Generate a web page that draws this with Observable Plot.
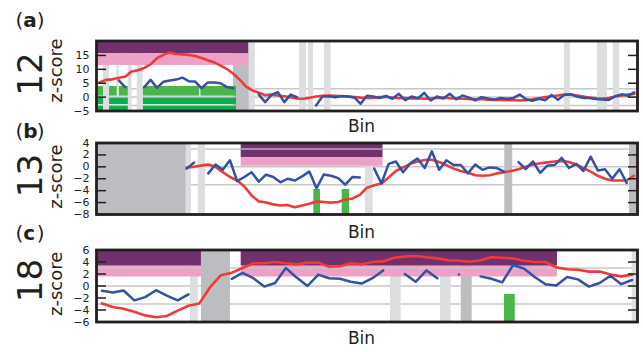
<!DOCTYPE html>
<html><head><meta charset="utf-8">
<script src="https://cdn.jsdelivr.net/npm/d3@7"></script>
<script src="https://cdn.jsdelivr.net/npm/@observablehq/plot@0.6"></script>
<style>
body{margin:0;background:#fff;}
#chart{position:relative;width:643px;height:352px;overflow:hidden;background:#fff;}
#chart svg{position:absolute;left:0;top:0;}
</style></head><body><div id="chart"></div>
<script>
// ---------- data ----------
const panelLetters = ["a", "b", "c"];
const chromosomes = ["12", "13", "18"];
const xLabel = "Bin";
const yLabel = "z-score";
const gridValues = [-3, 0, 3];

// panel (a): chromosome 12
const binsA = 85;
const yDomainA = [-5, 20.2];
const yTicksA = [-5, 0, 5, 10, 15];
const redA = [5.4,6.2,6.4,7.0,7.3,9.2,9.7,10.5,11.8,14.0,15.2,16.1,15.5,15.4,15.2,14.8,14.1,13.3,12.5,11.3,10.1,8.4,6.3,3.8,2.4,1.6,0.7,0.9,0.6,0.3,0.0,-0.5,-0.6,-0.2,0.2,0.5,0.6,0.5,0.3,0.2,0.0,-0.2,-0.3,-0.2,0.0,0.1,-0.2,-0.4,-0.3,-0.5,-0.4,-0.6,-0.5,-0.3,-0.2,-0.4,-0.5,-0.6,-0.7,-0.8,-0.7,-0.9,-1.0,-1.0,-1.1,-1.0,-1.2,-1.1,-0.8,-0.4,0.0,0.3,0.6,0.9,1.0,0.6,0.2,-0.2,-0.4,-0.5,-0.3,0.2,0.6,0.9,1.1];
const blueA = [null,null,null,6.0,3.6,null,null,3.6,6.2,3.4,5.5,6.0,6.3,7.0,5.7,5.6,3.2,5.3,5.3,5.0,3.6,3.2,null,null,null,0.9,-1.8,0.8,1.8,-1.8,0.9,0.0,null,null,-3.0,0.2,0.3,-0.1,0.4,0.2,-0.1,-2.4,0.5,0.2,-0.3,0.4,-0.6,1.2,-1.1,0.2,-0.4,1.5,-1.2,0.2,-0.5,1.2,-0.8,0.6,-0.2,-1.2,0.0,-0.5,-0.9,-0.3,-0.6,-0.3,0.9,-0.8,-1.3,-0.6,-1.1,0.8,-1.0,0.8,1.0,0.2,-0.3,-0.3,-0.7,-0.9,-1.0,0.3,1.0,0.5,1.7];
const lightA = [[1.1,2.05],[3.2,3.55],[5.0,5.6],[6.4,7.3],[24.0,24.95],[31.9,33.0],[33.3,34.1],[35.8,36.85],[73.5,74.45],[78.7,80.3],[81.2,82.2]];
const darkA = [[21.5,24.0]];
const bandsA = [[0,23.9]];
const purpleA = [15.6, 20.2];
const pinkA = [11.4, 15.6];
const greenUpperA = [[0.27,1.1],[2.05,3.25],[3.6,5.0],[7.35,16.2],[16.4,22.0]];
const greenLowerA = [[0.27,1.1],[2.05,5.0],[7.35,22.0]];
const greenRowsA = [[0.35,3.85],[-2.7,-0.35],[-5,-3.3]];

// panel (b): chromosome 13
const binsB = 75;
const yDomainB = [-8, 4];
const yTicksB = [-8, -6, -4, -2, 0, 2, 4];
const redB = [null,null,null,null,null,null,null,null,null,null,null,null,-0.1,0.0,0.2,0.4,0.0,-0.9,-1.7,-2.3,-3.3,-4.8,-5.8,-6.0,-6.3,-6.5,-6.4,-6.8,-6.5,-6.2,-5.8,-5.9,-6.0,-5.9,-5.5,-5.3,-4.7,-3.5,-3.1,-2.8,-1.8,-0.7,-0.1,0.5,0.9,1.15,1.2,0.8,0.3,-0.3,-0.7,-1.0,-1.4,-1.5,-1.4,-1.1,-0.9,-0.7,-0.4,0.0,0.4,0.6,0.75,0.9,1.0,0.8,0.4,-0.2,-0.8,-1.5,-2.0,-2.3,-2.3,-2.3,-1.5];
const blueB = [null,null,null,null,null,null,null,null,null,null,null,null,-0.3,0.7,null,-1.1,0.4,-0.5,1.1,-2.4,-1.7,-0.9,-2.5,-1.3,-1.7,-2.6,-2.0,-2.3,-1.6,-0.8,-3.6,-1.3,-1.5,-1.9,-3.0,-1.7,-1.8,null,-0.3,-2.8,0.5,0.9,-0.9,0.6,1.4,-0.2,2.6,-0.5,1.1,0.3,0.3,-1.1,0.4,-0.5,-0.1,-0.2,-0.8,null,0.8,-0.4,0.9,-1.0,0.2,0.3,1.5,-0.2,0.5,-0.7,1.7,-0.6,-0.4,-2.0,-0.4,-2.7,null];
const lightB = [[12.44,13.17],[14.1,15.1],[37.3,38.36]];
const darkB = [[0,12.44],[56.6,57.7],[73.9,75]];
const bandsB = [[20.06,39.72]];
const purpleB = [1.55, 4];
const pinkB = [0.1, 1.55];
const greenB = [[30.13,31.05],[34.06,35.08]];
const greenRowB = [-8, -3.8];

// panel (c): chromosome 18
const binsC = 50;
const yDomainC = [-6, 6];
const yTicksC = [-6, -4, -2, 0, 2, 4, 6];
const redC = [-2.9,-3.5,-3.8,-4.3,-4.9,-5.2,-5.0,-4.1,-3.3,-2.9,-0.2,1.8,2.2,3.0,3.8,3.8,4.0,3.8,3.6,3.9,3.9,3.2,3.3,3.8,3.6,4.0,4.1,4.7,4.9,5.0,4.8,4.6,4.3,4.2,4.05,4.3,4.8,4.7,4.6,4.2,4.0,4.0,3.1,2.8,2.7,2.4,2.4,1.9,1.6,1.9];
const blueC = [-0.8,-1.1,-0.75,-2.4,-1.85,-0.7,-1.6,-2.4,-1.4,null,null,null,1.2,2.2,1.3,-0.1,0.5,3.0,1.4,0.0,1.9,1.3,1.2,0.7,0.4,1.3,2.6,null,2.0,0.7,2.6,1.3,null,1.9,null,1.6,1.2,0.6,3.5,2.9,1.5,0.3,0.1,1.5,1.1,-0.1,0.5,1.7,0.3,1.0];
const lightC = [[8.69,9.40],[27.17,28.16],[31.79,32.78],[49.51,50]];
const darkC = [[9.70,12.38],[33.71,34.72]];
const bandsC = [[0,9.70],[13.37,42.6]];
const purpleC = [3.3, 6];
const pinkC = [1.5, 3.3];
const greenC = [[37.71,38.70]];
const greenRowC = [-6, -1.4];

// ---------- styles ----------
const INK = "#231f20";
const GRID = "#c8c8c8";
const LIGHT = "#dddee0";
const DARK = "#bcbdc0";
const PURPLE = "#71306e";
const PINK = "#eea1c8";
const GREEN_UP = "#49b649";
const GREEN_LOW = "#0bb04d";
const RED = "#ee3a38";
const BLUE = "#3352a3";
const FONT = "DejaVu Sans, Verdana, sans-serif";
const W = 643, H = 352;
const fmt = d => d < 0 ? "\u2212" + Math.abs(d) : String(d);

function makePanel(c) {
  const lineData = d3.range(c.bins).map(i => ({
    x: i + 0.5,
    red: c.red[i] == null ? NaN : c.red[i],
    blue: c.blue[i] == null ? NaN : c.blue[i]
  }));
  const gridOverBands = [];
  for (const b of c.bands) for (const g of gridValues)
    if (g > c.pink[0] && g < c.purple[1]) gridOverBands.push({y: g, x1: b[0], x2: b[1]});
  const greenMarks = c.greens.map(gr =>
    Plot.rect(gr.ranges, {x1: d => d[0], x2: d => d[1], y1: () => gr.y[0], y2: () => gr.y[1], fill: gr.fill}));
  const tAnchor = {frameAnchor: "top-left", lineAnchor: "middle", fill: INK, fontFamily: FONT};
  return Plot.plot({
    width: W, height: H,
    marginLeft: 96, marginRight: 6, marginTop: c.top, marginBottom: H - c.bottom,
    x: {domain: [0, c.bins], axis: null},
    y: {domain: c.yDomain, axis: null},
    style: {background: "none", overflow: "visible", fontFamily: FONT, fontSize: "11px", color: INK},
    marks: [
      Plot.ruleY(gridValues, {stroke: GRID, strokeWidth: 1.5}),
      Plot.rect(c.light, {x1: d => d[0], x2: d => d[1], fill: LIGHT}),
      Plot.rect(c.dark, {x1: d => d[0], x2: d => d[1], fill: DARK}),
      ...greenMarks,
      Plot.rect(c.bands, {x1: d => d[0], x2: d => d[1], y1: () => c.purple[0], y2: () => c.purple[1], fill: PURPLE}),
      Plot.rect(c.bands, {x1: d => d[0], x2: d => d[1], y1: () => c.pink[0], y2: () => c.pink[1], fill: PINK}),
      Plot.ruleY(gridOverBands, {y: "y", x1: "x1", x2: "x2", stroke: GRID, strokeWidth: 1.5, strokeOpacity: 0.8}),
      Plot.line(lineData, {x: "x", y: "red", stroke: RED, strokeWidth: 2.6, strokeLinejoin: "round"}),
      Plot.line(lineData, {x: "x", y: "blue", stroke: BLUE, strokeWidth: 2.5, strokeLinejoin: "round"}),
      Plot.frame({stroke: INK, strokeWidth: 2.8}),
      Plot.axisY(c.yTicks, {anchor: "left", tickSize: 0, tickPadding: 7, tickFormat: fmt, label: null, fontSize: 11, fill: INK}),
      Plot.axisY(c.yTicks, {anchor: "left", tickSize: -10, strokeWidth: 1.5, stroke: INK, fill: "none", label: null}),
      Plot.axisY(c.yTicks, {anchor: "right", tickSize: -10, strokeWidth: 1.5, stroke: INK, fill: "none", label: null}),
      Plot.text(["("], {...tAnchor, text: d => d, textAnchor: "start", fontSize: 20, dx: -81, dy: c.letterDy}),
      Plot.text([c.letter], {...tAnchor, text: d => d, textAnchor: "start", fontSize: 20, fontWeight: "bold", dx: -73.2, dy: c.letterDy}),
      Plot.text([")"], {...tAnchor, text: d => d, textAnchor: "start", fontSize: 20, dx: -59.7, dy: c.letterDy}),
      Plot.text([c.chrom], {...tAnchor, text: d => d, rotate: -90, textAnchor: "middle", fontSize: 34, dx: -65, dy: c.chromDy}),
      Plot.text([yLabel], {...tAnchor, text: d => d, rotate: -90, textAnchor: "middle", fontSize: 18, dx: -40, dy: c.zDy}),
      Plot.text([xLabel], {frameAnchor: "bottom", lineAnchor: "middle", text: d => d, fill: INK, fontFamily: FONT, fontSize: 17, dx: -5.5, dy: c.binDy})
    ]
  });
}

const panels = [
  {bins: binsA, yDomain: yDomainA, yTicks: yTicksA, red: redA, blue: blueA, light: lightA, dark: darkA,
   bands: bandsA, purple: purpleA, pink: pinkA,
   greens: [{ranges: greenUpperA, y: greenRowsA[0], fill: GREEN_UP}, {ranges: greenLowerA, y: greenRowsA[1], fill: GREEN_LOW}, {ranges: greenLowerA, y: greenRowsA[2], fill: GREEN_LOW}],
   top: 40.5, bottom: 110.5, letter: panelLetters[0], chrom: chromosomes[0], letterDy: -20.5, chromDy: 33, zDy: 29.5, binDy: 15.6},
  {bins: binsB, yDomain: yDomainB, yTicks: yTicksB, red: redB, blue: blueB, light: lightB, dark: darkB,
   bands: bandsB, purple: purpleB, pink: pinkB,
   greens: [{ranges: greenB, y: greenRowB, fill: GREEN_UP}],
   top: 142.5, bottom: 214, letter: panelLetters[1], chrom: chromosomes[1], letterDy: -11.2, chromDy: 32.5, zDy: 33.5, binDy: 17.6},
  {bins: binsC, yDomain: yDomainC, yTicks: yTicksC, red: redC, blue: blueC, light: lightC, dark: darkC,
   bands: bandsC, purple: purpleC, pink: pinkC,
   greens: [{ranges: greenC, y: greenRowC, fill: GREEN_UP}],
   top: 249.5, bottom: 321.5, letter: panelLetters[2], chrom: chromosomes[2], letterDy: -16.2, chromDy: 30.5, zDy: 33.8, binDy: 16.6}
];

const host = document.getElementById("chart");
for (const p of panels) host.appendChild(makePanel(p));
</script>
</body></html>
